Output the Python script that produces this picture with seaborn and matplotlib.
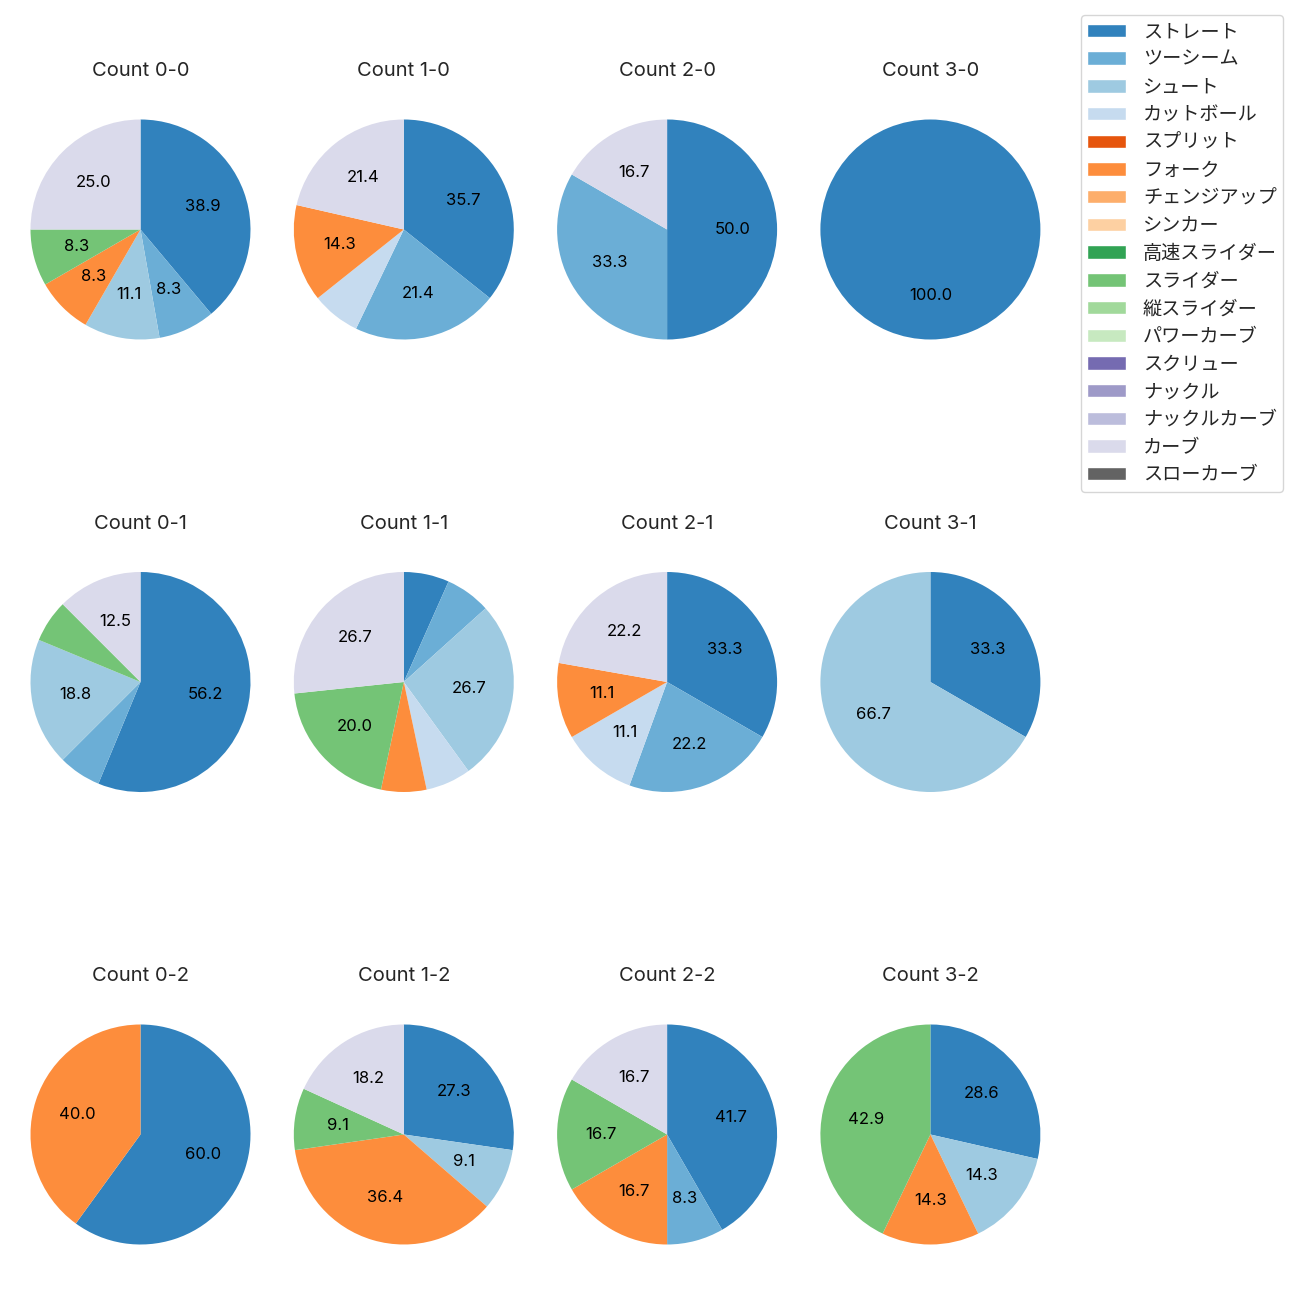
import matplotlib
matplotlib.use("Agg")
import matplotlib.pyplot as plt
import seaborn as sns
from matplotlib.patches import Patch

sns.set_theme(style="white")
plt.rcParams['font.family'] = ['Inter', 'Noto Sans CJK JP', 'DejaVu Sans']

pitch_types = ["ストレート", "ツーシーム", "シュート", "カットボール", "スプリット", "フォーク",
               "チェンジアップ", "シンカー", "高速スライダー", "スライダー", "縦スライダー",
               "パワーカーブ", "スクリュー", "ナックル", "ナックルカーブ", "カーブ", "スローカーブ"]

count_labels = ["0-0", "1-0", "2-0", "3-0",
                "0-1", "1-1", "2-1", "3-1",
                "0-2", "1-2", "2-2", "3-2"]

# pitch counts per ball-strike count, in pitch_types order
c00 = [14, 3, 4, 0, 0, 3, 0, 0, 0, 3, 0, 0, 0, 0, 0, 9, 0]
c10 = [5, 3, 0, 1, 0, 2, 0, 0, 0, 0, 0, 0, 0, 0, 0, 3, 0]
c20 = [3, 2, 0, 0, 0, 0, 0, 0, 0, 0, 0, 0, 0, 0, 0, 1, 0]
c30 = [1, 0, 0, 0, 0, 0, 0, 0, 0, 0, 0, 0, 0, 0, 0, 0, 0]
c01 = [9, 1, 3, 0, 0, 0, 0, 0, 0, 1, 0, 0, 0, 0, 0, 2, 0]
c11 = [1, 1, 4, 1, 0, 1, 0, 0, 0, 3, 0, 0, 0, 0, 0, 4, 0]
c21 = [3, 2, 0, 1, 0, 1, 0, 0, 0, 0, 0, 0, 0, 0, 0, 2, 0]
c31 = [1, 0, 2, 0, 0, 0, 0, 0, 0, 0, 0, 0, 0, 0, 0, 0, 0]
c02 = [3, 0, 0, 0, 0, 2, 0, 0, 0, 0, 0, 0, 0, 0, 0, 0, 0]
c12 = [3, 0, 1, 0, 0, 4, 0, 0, 0, 1, 0, 0, 0, 0, 0, 2, 0]
c22 = [5, 1, 0, 0, 0, 2, 0, 0, 0, 2, 0, 0, 0, 0, 0, 2, 0]
c32 = [2, 0, 1, 0, 0, 1, 0, 0, 0, 3, 0, 0, 0, 0, 0, 0, 0]
all_counts = [c00, c10, c20, c30, c01, c11, c21, c31, c02, c12, c22, c32]

palette = sns.color_palette("tab20c", 20)
colors = [palette[i] for i in range(17)]

W = H = 1300
fig = plt.figure(figsize=(13, 13), dpi=100)

side = 275.0
for k, (lab, vals) in enumerate(zip(count_labels, all_counts)):
    r, c = divmod(k, 4)
    cx = 140.5 + 263.3 * c
    cy = 229.5 + 452.5 * r
    ax = fig.add_axes([(cx - side / 2) / W, 1 - (cy + side / 2) / H, side / W, side / H])
    v = [x for x in vals if x > 0]
    col = [colors[i] for i, x in enumerate(vals) if x > 0]
    ax.pie(v, colors=col, startangle=90, counterclock=False,
           autopct=lambda p: f"{p:.1f}" if p >= 8 else "",
           wedgeprops={'linewidth': 0},
           textprops={'fontsize': 12, 'color': 'black'})
    ax.set_aspect('equal')
    ax.set_title(f"Count {lab}", fontsize=14.5, pad=11.5)

handles = [Patch(facecolor=colors[i], label=pitch_types[i]) for i in range(17)]
fig.legend(handles=handles, loc='upper right', bbox_to_anchor=(1283 / W, 1 - 15 / H),
           borderaxespad=0, frameon=True, labelspacing=0.35,
           borderpad=0.32, handlelength=2.0, handletextpad=0.9,
           prop={'family': ['Noto Sans CJK JP', 'DejaVu Sans'], 'size': 13.8})

fig.savefig("out.png", dpi=100)
